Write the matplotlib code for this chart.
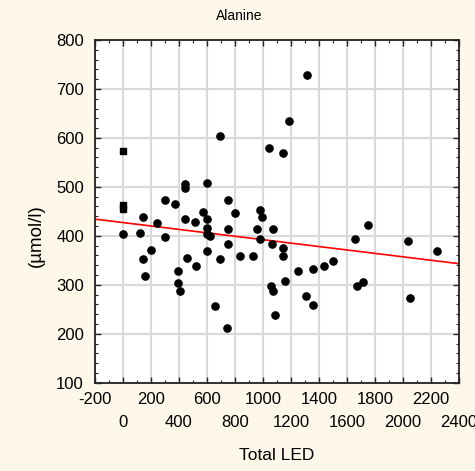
import matplotlib
matplotlib.use("Agg")
import matplotlib.pyplot as plt
import numpy as np
from matplotlib.ticker import MultipleLocator

plt.rcParams["font.family"] = ["Liberation Sans", "DejaVu Sans"]

# points (Total LED, µmol/l)
led_sq = [0, 0, 0]
ala_sq = [573, 462, 454]

led = [0, 124, 143, 143, 160, 202, 243, 302, 302, 373, 396, 396, 408, 444, 444, 444,
       456, 515, 525, 574, 598, 598, 598, 598, 621, 598, 657, 692, 692, 750, 750, 750,
       745, 800, 837, 930, 955, 977, 990, 977, 1040, 1070, 1067, 1060, 1075, 1083, 1142,
       1145, 1145, 1154, 1183, 1250, 1308, 1315, 1355, 1355, 1439, 1503, 1655, 1752,
       1675, 1717, 2036, 2048, 2240]
ala = [404, 405, 439, 352, 318, 371, 427, 473, 398, 466, 329, 304, 287, 505, 498, 435,
       354, 428, 338, 448, 508, 434, 415, 404, 400, 370, 256, 604, 352, 473, 413, 383,
       211, 446, 359, 359, 414, 453, 438, 393, 580, 414, 383, 297, 287, 238, 570,
       376, 359, 307, 635, 329, 277, 728, 332, 259, 338, 348, 393, 423,
       297, 306, 390, 273, 370]

x_row1 = [-200, 200, 600, 1000, 1400, 1800, 2200]
x_row2 = [0, 400, 800, 1200, 1600, 2000, 2400]

fig = plt.figure(figsize=(4.75, 4.71), dpi=100)
fig.patch.set_facecolor("#fdf7e9")
ax = fig.add_axes([0.2, 0.1875, 0.7663, 0.7276])
ax.set_facecolor("white")

ax.set_xlim(-200, 2400)
ax.set_ylim(100, 800)
ax.xaxis.set_major_locator(MultipleLocator(200))
ax.xaxis.set_minor_locator(MultipleLocator(100))
ax.yaxis.set_major_locator(MultipleLocator(100))
ax.yaxis.set_minor_locator(MultipleLocator(20))
ax.grid(True, which="major", color="#d9d9d9", lw=1.5)
ax.set_axisbelow(True)

# staggered x labels: first row on the main axis, second row on a helper axis
xt = sorted(x_row1 + x_row2)
ax.set_xticks(xt)
ax.set_xticklabels([str(v) if v in x_row1 else "" for v in xt])
ax.tick_params(which="both", direction="in", top=True, right=True, labelsize=12,
               color="#222222")
ax.tick_params(which="major", length=4, width=1)
ax.tick_params(which="minor", length=2.5, width=0.8)
ax.tick_params(axis="x", pad=7)
ax.tick_params(axis="y", pad=8)
for s in ax.spines.values():
    s.set_linewidth(1.3)
    s.set_color("#222222")

sec = ax.secondary_xaxis("bottom")
sec.set_xticks(x_row2)
sec.set_xticklabels([str(v) for v in x_row2])
sec.tick_params(length=0, labelsize=12, pad=23)
sec.spines["bottom"].set_visible(False)

all_x = np.array(led_sq + led, dtype=float)
all_y = np.array(ala_sq + ala, dtype=float)
slope, icpt = np.polyfit(all_x, all_y, 1)
xl = np.array([-200, 2400])
ax.plot(xl, icpt + slope * xl, color="red", lw=1.2, zorder=2)

ax.plot(led, ala, "o", color="black", ms=5.2, zorder=3)
ax.plot(led_sq, ala_sq, "s", color="black", ms=5, zorder=3)

fig.text(0.503, 0.967, "Alanine", fontsize=10, ha="center", va="center")
fig.text(0.583, 0.033, "Total LED", fontsize=12.5, ha="center", va="center")
fig.text(0.076, 0.5, "(µmol/l)", fontsize=13.5, rotation=90, ha="center", va="center")

fig.savefig("out.png", dpi=100, facecolor=fig.get_facecolor())
